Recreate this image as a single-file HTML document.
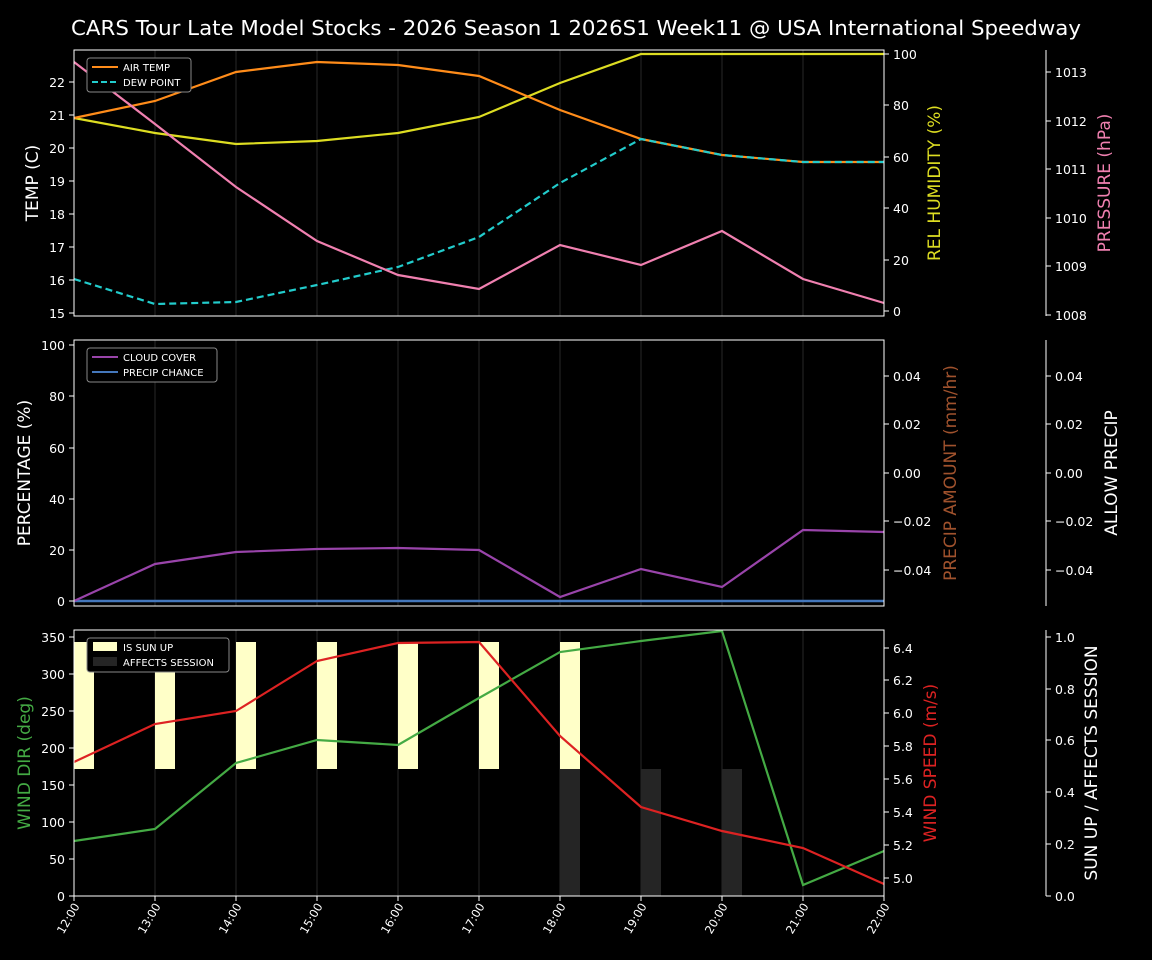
<!DOCTYPE html>
<html><head><meta charset="utf-8"><style>
html,body{margin:0;padding:0;background:#000;}
svg{display:block;font-family:"DejaVu Sans","Liberation Sans",sans-serif;}
</style></head><body>
<svg width="1152" height="960" viewBox="0 0 1152 960" xmlns="http://www.w3.org/2000/svg">
<rect width="1152" height="960" fill="#000"/>
<text x="71" y="35" fill="#fff" font-size="20" textLength="1010" lengthAdjust="spacingAndGlyphs">CARS Tour Late Model Stocks - 2026 Season 1 2026S1 Week11 @ USA International Speedway</text>

<!-- grid verticals -->
<g stroke="#141414" stroke-width="2">
<line x1="155" y1="50" x2="155" y2="316"/><line x1="236" y1="50" x2="236" y2="316"/><line x1="317" y1="50" x2="317" y2="316"/><line x1="398" y1="50" x2="398" y2="316"/><line x1="479" y1="50" x2="479" y2="316"/><line x1="560" y1="50" x2="560" y2="316"/><line x1="641" y1="50" x2="641" y2="316"/><line x1="722" y1="50" x2="722" y2="316"/><line x1="803" y1="50" x2="803" y2="316"/>
<line x1="155" y1="340" x2="155" y2="606"/><line x1="236" y1="340" x2="236" y2="606"/><line x1="317" y1="340" x2="317" y2="606"/><line x1="398" y1="340" x2="398" y2="606"/><line x1="479" y1="340" x2="479" y2="606"/><line x1="560" y1="340" x2="560" y2="606"/><line x1="641" y1="340" x2="641" y2="606"/><line x1="722" y1="340" x2="722" y2="606"/><line x1="803" y1="340" x2="803" y2="606"/>
<line x1="155" y1="630" x2="155" y2="896"/><line x1="236" y1="630" x2="236" y2="896"/><line x1="317" y1="630" x2="317" y2="896"/><line x1="398" y1="630" x2="398" y2="896"/><line x1="479" y1="630" x2="479" y2="896"/><line x1="560" y1="630" x2="560" y2="896"/><line x1="641" y1="630" x2="641" y2="896"/><line x1="722" y1="630" x2="722" y2="896"/><line x1="803" y1="630" x2="803" y2="896"/>
</g>

<!-- PANEL 1 -->
<polyline fill="none" stroke="#dddd22" stroke-width="2.2" points="74,118 155,133 236,144 317,141 398,133 479,117 560,83 641,54 722,54 803,54 884,54"/>
<polyline fill="none" stroke="#ff8c1a" stroke-width="2.2" points="74,118 155,101 236,72 317,62 398,65 479,76 560,110 641,139 722,155 803,162 884,162"/>
<polyline fill="none" stroke="#22cccc" stroke-width="2.2" stroke-dasharray="7,4" points="74,279 155,304 236,302 317,285 398,267 479,237 560,183 641,139 722,155 803,162 884,162"/>
<polyline fill="none" stroke="#f080b0" stroke-width="2.2" points="74,62 155,124 236,187 317,241 398,275 479,289 560,245 641,265 722,231 803,279 884,303"/>
<rect x="74" y="50" width="810" height="266" fill="none" stroke="#fff" stroke-width="1"/>
<line x1="1046" y1="50" x2="1046" y2="316" stroke="#fff"/>
<g fill="#fff" font-size="12.5" text-anchor="end">
<text x="65" y="87">22</text><text x="65" y="120">21</text><text x="65" y="153">20</text><text x="65" y="186">19</text><text x="65" y="219">18</text><text x="65" y="252">17</text><text x="65" y="285">16</text><text x="65" y="318">15</text>
</g>
<g stroke="#fff"><line x1="69" y1="82" x2="74" y2="82"/><line x1="69" y1="115" x2="74" y2="115"/><line x1="69" y1="148" x2="74" y2="148"/><line x1="69" y1="181" x2="74" y2="181"/><line x1="69" y1="214" x2="74" y2="214"/><line x1="69" y1="247" x2="74" y2="247"/><line x1="69" y1="280" x2="74" y2="280"/><line x1="69" y1="313" x2="74" y2="313"/>
<line x1="884" y1="54" x2="889" y2="54"/><line x1="884" y1="105" x2="889" y2="105"/><line x1="884" y1="157" x2="889" y2="157"/><line x1="884" y1="208" x2="889" y2="208"/><line x1="884" y1="260" x2="889" y2="260"/><line x1="884" y1="311" x2="889" y2="311"/>
<line x1="1046" y1="72" x2="1051" y2="72"/><line x1="1046" y1="121" x2="1051" y2="121"/><line x1="1046" y1="169" x2="1051" y2="169"/><line x1="1046" y1="218" x2="1051" y2="218"/><line x1="1046" y1="266" x2="1051" y2="266"/><line x1="1046" y1="315" x2="1051" y2="315"/></g>
<g fill="#fff" font-size="12.5">
<text x="893" y="59">100</text><text x="893" y="110">80</text><text x="893" y="162">60</text><text x="893" y="213">40</text><text x="893" y="265">20</text><text x="893" y="316">0</text>
<text x="1055" y="77">1013</text><text x="1055" y="126">1012</text><text x="1055" y="174">1011</text><text x="1055" y="223">1010</text><text x="1055" y="271">1009</text><text x="1055" y="320">1008</text>
</g>
<text transform="translate(38,183) rotate(-90)" fill="#fff" font-size="17" text-anchor="middle">TEMP (C)</text>
<text transform="translate(940,183) rotate(-90)" fill="#dddd22" font-size="17" text-anchor="middle">REL HUMIDITY (%)</text>
<text transform="translate(1110,183) rotate(-90)" fill="#f080b0" font-size="17" text-anchor="middle">PRESSURE (hPa)</text>
<rect x="87" y="58" width="104" height="34" rx="3" fill="#000" stroke="#888"/>
<line x1="92" y1="67" x2="118" y2="67" stroke="#ff8c1a" stroke-width="2"/>
<line x1="92" y1="82" x2="118" y2="82" stroke="#22cccc" stroke-width="2" stroke-dasharray="6,3"/>
<text x="123" y="71" fill="#fff" font-size="10">AIR TEMP</text>
<text x="123" y="86" fill="#fff" font-size="10">DEW POINT</text>

<!-- PANEL 2 -->
<polyline fill="none" stroke="#4477bb" stroke-width="2.5" points="74,601 884,601"/>
<polyline fill="none" stroke="#9944aa" stroke-width="2.2" points="74,601 155,564 236,552 317,549 398,548 479,550 560,597 641,569 722,587 803,530 884,532"/>
<rect x="74" y="340" width="810" height="266" fill="none" stroke="#fff"/>
<line x1="1046" y1="340" x2="1046" y2="606" stroke="#fff"/>
<g stroke="#fff"><line x1="69" y1="345" x2="74" y2="345"/><line x1="69" y1="396" x2="74" y2="396"/><line x1="69" y1="448" x2="74" y2="448"/><line x1="69" y1="499" x2="74" y2="499"/><line x1="69" y1="550" x2="74" y2="550"/><line x1="69" y1="601" x2="74" y2="601"/>
<line x1="884" y1="376" x2="889" y2="376"/><line x1="884" y1="424" x2="889" y2="424"/><line x1="884" y1="473" x2="889" y2="473"/><line x1="884" y1="521" x2="889" y2="521"/><line x1="884" y1="570" x2="889" y2="570"/>
<line x1="1046" y1="376" x2="1051" y2="376"/><line x1="1046" y1="424" x2="1051" y2="424"/><line x1="1046" y1="473" x2="1051" y2="473"/><line x1="1046" y1="521" x2="1051" y2="521"/><line x1="1046" y1="570" x2="1051" y2="570"/></g>
<g fill="#fff" font-size="12.5" text-anchor="end">
<text x="65" y="350">100</text><text x="65" y="401">80</text><text x="65" y="453">60</text><text x="65" y="504">40</text><text x="65" y="555">20</text><text x="65" y="606">0</text>
</g>
<g fill="#fff" font-size="12.5">
<text x="893" y="381">0.04</text><text x="893" y="429">0.02</text><text x="893" y="478">0.00</text><text x="893" y="526">−0.02</text><text x="893" y="575">−0.04</text>
<text x="1055" y="381">0.04</text><text x="1055" y="429">0.02</text><text x="1055" y="478">0.00</text><text x="1055" y="526">−0.02</text><text x="1055" y="575">−0.04</text>
</g>
<text transform="translate(30,473) rotate(-90)" fill="#fff" font-size="17" text-anchor="middle">PERCENTAGE (%)</text>
<text transform="translate(956,473) rotate(-90)" fill="#a0522d" font-size="17" text-anchor="middle">PRECIP AMOUNT (mm/hr)</text>
<text transform="translate(1117,473) rotate(-90)" fill="#fff" font-size="17" text-anchor="middle">ALLOW PRECIP</text>
<rect x="87" y="348" width="130" height="34" rx="3" fill="#000" stroke="#888"/>
<line x1="92" y1="357" x2="118" y2="357" stroke="#9944aa" stroke-width="2"/>
<line x1="92" y1="372" x2="118" y2="372" stroke="#4477bb" stroke-width="2"/>
<text x="123" y="361" fill="#fff" font-size="10">CLOUD COVER</text>
<text x="123" y="376" fill="#fff" font-size="10">PRECIP CHANCE</text>

<!-- PANEL 3 -->
<g fill="#ffffc8">
<rect x="74" y="642" width="20" height="127"/><rect x="155" y="642" width="20" height="127"/><rect x="236" y="642" width="20" height="127"/><rect x="317" y="642" width="20" height="127"/><rect x="398" y="642" width="20" height="127"/><rect x="479" y="642" width="20" height="127"/><rect x="560" y="642" width="20" height="127"/>
</g>
<g fill="#252525">
<rect x="560" y="769" width="20" height="127"/><rect x="641" y="769" width="20" height="127"/><rect x="722" y="769" width="20" height="127"/>
</g>
<polyline fill="none" stroke="#44aa44" stroke-width="2.2" points="74,841 155,829 236,763 317,740 398,745 479,698 560,652 641,641 722,631 803,885 884,851"/>
<polyline fill="none" stroke="#dd2222" stroke-width="2.2" points="74,762 155,724 236,711 317,661 398,643 479,642 560,736 641,807 722,831 803,848 884,884"/>
<rect x="74" y="630" width="810" height="266" fill="none" stroke="#fff"/>
<line x1="1046" y1="630" x2="1046" y2="896" stroke="#fff"/>
<g stroke="#fff"><line x1="69" y1="637" x2="74" y2="637"/><line x1="69" y1="674" x2="74" y2="674"/><line x1="69" y1="711" x2="74" y2="711"/><line x1="69" y1="748" x2="74" y2="748"/><line x1="69" y1="785" x2="74" y2="785"/><line x1="69" y1="822" x2="74" y2="822"/><line x1="69" y1="859" x2="74" y2="859"/><line x1="69" y1="896" x2="74" y2="896"/>
<line x1="884" y1="648" x2="889" y2="648"/><line x1="884" y1="680" x2="889" y2="680"/><line x1="884" y1="713" x2="889" y2="713"/><line x1="884" y1="746" x2="889" y2="746"/><line x1="884" y1="779" x2="889" y2="779"/><line x1="884" y1="812" x2="889" y2="812"/><line x1="884" y1="845" x2="889" y2="845"/><line x1="884" y1="878" x2="889" y2="878"/>
<line x1="1046" y1="637" x2="1051" y2="637"/><line x1="1046" y1="689" x2="1051" y2="689"/><line x1="1046" y1="740" x2="1051" y2="740"/><line x1="1046" y1="792" x2="1051" y2="792"/><line x1="1046" y1="844" x2="1051" y2="844"/><line x1="1046" y1="896" x2="1051" y2="896"/></g>
<g fill="#fff" font-size="12.5" text-anchor="end">
<text x="65" y="642">350</text><text x="65" y="679">300</text><text x="65" y="716">250</text><text x="65" y="753">200</text><text x="65" y="790">150</text><text x="65" y="827">100</text><text x="65" y="864">50</text><text x="65" y="901">0</text>
</g>
<g fill="#fff" font-size="12.5">
<text x="893" y="653">6.4</text><text x="893" y="685">6.2</text><text x="893" y="718">6.0</text><text x="893" y="751">5.8</text><text x="893" y="784">5.6</text><text x="893" y="817">5.4</text><text x="893" y="850">5.2</text><text x="893" y="883">5.0</text>
<text x="1055" y="642">1.0</text><text x="1055" y="694">0.8</text><text x="1055" y="745">0.6</text><text x="1055" y="797">0.4</text><text x="1055" y="849">0.2</text><text x="1055" y="901">0.0</text>
</g>
<text transform="translate(30,763) rotate(-90)" fill="#44aa44" font-size="17" text-anchor="middle">WIND DIR (deg)</text>
<text transform="translate(936,763) rotate(-90)" fill="#dd2222" font-size="17" text-anchor="middle">WIND SPEED (m/s)</text>
<text transform="translate(1097,763) rotate(-90)" fill="#fff" font-size="17" text-anchor="middle">SUN UP / AFFECTS SESSION</text>
<rect x="87" y="638" width="142" height="34" rx="3" fill="#000" stroke="#888"/>
<rect x="93" y="642" width="24" height="9" fill="#ffffc8"/>
<rect x="93" y="657" width="24" height="9" fill="#252525"/>
<text x="123" y="651" fill="#fff" font-size="10">IS SUN UP</text>
<text x="123" y="666" fill="#fff" font-size="10">AFFECTS SESSION</text>

<!-- x ticks -->
<g stroke="#fff"><line x1="74" y1="896" x2="74" y2="901"/><line x1="155" y1="896" x2="155" y2="901"/><line x1="236" y1="896" x2="236" y2="901"/><line x1="317" y1="896" x2="317" y2="901"/><line x1="398" y1="896" x2="398" y2="901"/><line x1="479" y1="896" x2="479" y2="901"/><line x1="560" y1="896" x2="560" y2="901"/><line x1="641" y1="896" x2="641" y2="901"/><line x1="722" y1="896" x2="722" y2="901"/><line x1="803" y1="896" x2="803" y2="901"/><line x1="884" y1="896" x2="884" y2="901"/></g>
<g fill="#fff" font-size="11.5" text-anchor="end">
<text transform="translate(80,906) rotate(-60)">12:00</text>
<text transform="translate(161,906) rotate(-60)">13:00</text>
<text transform="translate(242,906) rotate(-60)">14:00</text>
<text transform="translate(323,906) rotate(-60)">15:00</text>
<text transform="translate(404,906) rotate(-60)">16:00</text>
<text transform="translate(485,906) rotate(-60)">17:00</text>
<text transform="translate(566,906) rotate(-60)">18:00</text>
<text transform="translate(647,906) rotate(-60)">19:00</text>
<text transform="translate(728,906) rotate(-60)">20:00</text>
<text transform="translate(809,906) rotate(-60)">21:00</text>
<text transform="translate(890,906) rotate(-60)">22:00</text>
</g>
</svg>
</body></html>
